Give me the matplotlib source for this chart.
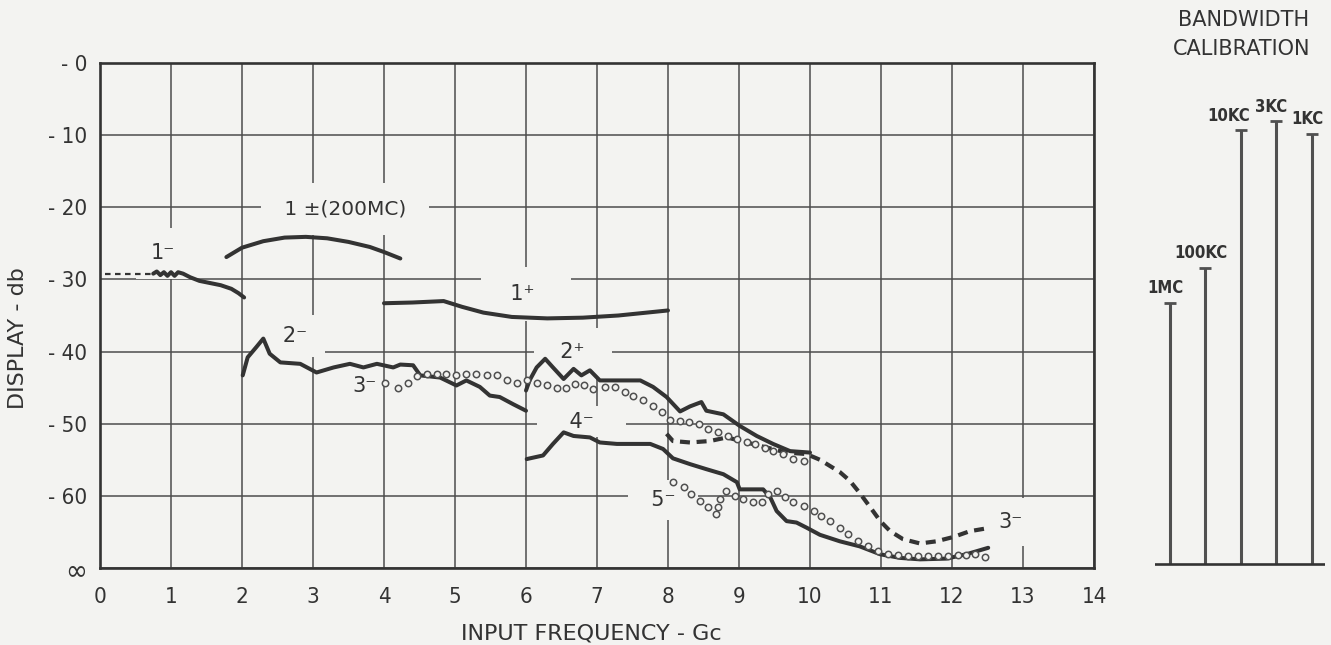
import matplotlib.pyplot as plt
from matplotlib import font_manager

paper = '#f3f3f1'
ink = '#333333'
grid_ink = '#4d4d4d'
wide = ['DejaVu Sans']

# pick a condensed face for the numerals if one is installed
_fonts = font_manager.fontManager.ttflist
if any(f.name == 'Liberation Sans Narrow' for f in _fonts):
    narrow = dict(family=['Liberation Sans Narrow', 'DejaVu Sans'])
elif any(f.name == 'DejaVu Sans' and f.stretch in ('condensed', 'semi-condensed', 600) for f in _fonts):
    narrow = dict(family=['DejaVu Sans'], stretch='condensed')
else:
    narrow = dict(family=['DejaVu Sans'])

# axes: input frequency in Gc, display level in db (-70 drawn as infinity)
x_ticks = list(range(15))
y_ticks = [0, -10, -20, -30, -40, -50, -60, -70]
y_ticklabels = ['- 0', '- 10', '- 20', '- 30', '- 40', '- 50', '- 60', '∞']

# 1- : dotted lead-in, then measured trace
x_1m_dot = [0.07, 0.75]
y_1m_dot = [-29.3, -29.3]
x_1m = [0.75, 0.80, 0.85, 0.90, 0.95, 1.00, 1.05, 1.10, 1.17, 1.27, 1.40, 1.55, 1.70, 1.85, 1.95, 2.03]
y_1m = [-29.2, -28.9, -29.4, -29.0, -29.5, -29.0, -29.5, -29.0, -29.2, -29.7, -30.2, -30.5, -30.8, -31.3, -31.9, -32.5]

# 1± (200 MC)
x_1pm = [1.78, 2.00, 2.30, 2.60, 2.90, 3.20, 3.50, 3.80, 4.00, 4.23]
y_1pm = [-26.9, -25.6, -24.7, -24.2, -24.1, -24.3, -24.8, -25.5, -26.2, -27.1]

# 1+
x_1p = [4.00, 4.40, 4.84, 5.10, 5.40, 5.80, 6.30, 6.80, 7.30, 7.70, 8.00]
y_1p = [-33.3, -33.2, -33.0, -33.8, -34.6, -35.2, -35.4, -35.3, -35.0, -34.6, -34.3]

# 2-
x_2m = [2.01, 2.08, 2.20, 2.30, 2.39, 2.54, 2.82, 3.05, 3.29, 3.52, 3.71, 3.90, 4.13, 4.23,
        4.41, 4.51, 4.79, 5.02, 5.16, 5.35, 5.49, 5.63, 5.82, 6.00]
y_2m = [-43.3, -40.8, -39.4, -38.2, -40.3, -41.5, -41.7, -42.9, -42.2, -41.7, -42.2, -41.7, -42.2, -41.8,
        -41.9, -43.3, -43.6, -44.7, -44.0, -44.9, -46.1, -46.3, -47.3, -48.2]

# 2+
x_2p = [6.00, 6.05, 6.15, 6.27, 6.38, 6.53, 6.67, 6.78, 6.90, 7.04, 7.28, 7.61, 7.79, 7.98,
        8.17, 8.31, 8.47, 8.54, 8.78, 9.01, 9.25, 9.48, 9.72, 10.00]
y_2p = [-45.4, -44.0, -42.2, -41.0, -42.2, -43.8, -42.4, -43.3, -42.6, -44.0, -44.0, -44.0, -44.9, -46.3,
        -48.3, -47.6, -47.0, -48.2, -48.7, -50.3, -51.7, -52.8, -53.8, -54.0]

# 4-
x_4m = [6.01, 6.24, 6.38, 6.53, 6.67, 6.90, 7.04, 7.28, 7.75, 7.93, 8.07, 8.31, 8.54, 8.78, 8.97, 9.01,
        9.20, 9.34, 9.44, 9.53, 9.67, 9.81, 9.95, 10.14, 10.42, 10.70, 10.99, 11.27, 11.55, 11.92, 12.20, 12.51]
y_4m = [-54.9, -54.4, -52.8, -51.2, -51.7, -51.9, -52.6, -52.8, -52.8, -53.5, -54.8, -55.6, -56.3, -57.0, -58.1, -59.1,
        -59.1, -59.1, -60.2, -62.1, -63.5, -63.7, -64.4, -65.4, -66.3, -67.0, -68.1, -68.6, -68.8, -68.7, -68.1, -67.2]

# 3- : plotted points, then the dashed continuation
x_3m_pts = [4.01, 4.20, 4.34, 4.47, 4.60, 4.74, 4.88, 5.02, 5.16, 5.30, 5.45, 5.59, 5.73, 5.87, 6.01, 6.15,
            6.29, 6.43, 6.57, 6.69, 6.81, 6.95, 7.11, 7.25, 7.39, 7.51, 7.65, 7.79, 7.91, 8.03, 8.17, 8.29,
            8.43, 8.57, 8.71, 8.85, 8.97, 9.11, 9.23, 9.37, 9.48, 9.62, 9.76, 9.91]
y_3m_pts = [-44.4, -45.0, -44.3, -43.4, -43.1, -43.1, -43.1, -43.3, -43.1, -43.1, -43.3, -43.2, -44.0, -44.3, -44.0, -44.3,
            -44.7, -45.0, -45.0, -44.5, -44.7, -45.2, -44.9, -44.9, -45.6, -46.1, -46.7, -47.5, -48.4, -49.5, -49.6, -49.8,
            -50.0, -50.7, -51.2, -51.7, -52.1, -52.6, -52.8, -53.3, -53.8, -54.2, -54.9, -55.1]
x_3m_dash = [7.98, 8.07, 8.31, 8.59, 8.83, 9.11, 9.39, 9.67, 9.95, 10.14, 10.42, 10.56, 10.70, 10.85,
             10.99, 11.13, 11.31, 11.55, 11.78, 12.02, 12.25, 12.49]
y_3m_dash = [-51.4, -52.4, -52.6, -52.4, -51.9, -52.6, -53.3, -54.0, -54.2, -55.0, -56.7, -57.9, -59.6, -61.6,
             -63.5, -64.9, -66.0, -66.6, -66.3, -65.7, -64.9, -64.5]

# 5- points
x_5m_pts = [8.07, 8.22, 8.33, 8.45, 8.57, 8.68, 8.70, 8.73, 8.82, 8.94, 9.06, 9.20, 9.32, 9.41, 9.53, 9.65,
            9.76, 9.91, 10.05, 10.16, 10.28, 10.42, 10.54, 10.68, 10.82, 10.96, 11.10, 11.24, 11.38, 11.52,
            11.66, 11.80, 11.94, 12.08, 12.20, 12.32, 12.46]
y_5m_pts = [-58.1, -58.8, -59.8, -60.7, -61.6, -62.5, -61.6, -60.5, -59.3, -60.0, -60.5, -60.9, -60.9, -59.8, -59.3, -60.1,
            -60.8, -61.4, -62.1, -62.8, -63.5, -64.4, -65.3, -66.2, -67.0, -67.6, -68.0, -68.2, -68.3, -68.3,
            -68.3, -68.3, -68.3, -68.2, -68.2, -68.1, -68.5]

# bandwidth calibration markers (same db scale)
bw_labels = ['1MC', '100KC', '10KC', '3KC', '1KC']
bw_levels = [-33.2, -28.4, -9.3, -8.1, -9.8]
bw_base = -69.4

fig = plt.figure(figsize=(13.31, 6.45), dpi=100, facecolor=paper)
ax = fig.add_axes([100 / 1331, 77 / 645, 994 / 1331, 505 / 645])
ax.set_facecolor(paper)
ax.set_xlim(0, 14)
ax.set_ylim(-70, 0)
ax.set_xticks(x_ticks)
ax.set_yticks(y_ticks)
ax.set_yticklabels(y_ticklabels)
ax.tick_params(axis='x', length=0, pad=14, colors=ink)
ax.tick_params(axis='y', length=0, pad=9, colors=ink)
for lab in ax.get_xticklabels() + ax.get_yticklabels():
    lab.set_fontproperties(font_manager.FontProperties(size=16, **narrow))
ax.get_yticklabels()[-1].set_fontsize(21)
ax.grid(True, color=grid_ink, lw=1.1)
ax.set_axisbelow(True)
for sp in ax.spines.values():
    sp.set_color(ink)
    sp.set_linewidth(1.9)

solid = dict(color=ink, lw=2.9, solid_capstyle='round', zorder=3)
ax.plot(x_1m_dot, y_1m_dot, color=ink, lw=1.6, dashes=(2.5, 2), zorder=3)
ax.plot(x_1m, y_1m, **solid)
ax.plot(x_1pm, y_1pm, **solid)
ax.plot(x_1p, y_1p, **solid)
ax.plot(x_2m, y_2m, **solid)
ax.plot(x_2p, y_2p, **solid)
ax.plot(x_4m, y_4m, **solid)
ax.plot(x_3m_dash, y_3m_dash, color=ink, lw=3.0, dashes=(2.4, 1.6), zorder=3)
circ = dict(ls='none', marker='o', ms=4.6, mfc=paper, mec='#505050', mew=1.1, zorder=4)
ax.plot(x_3m_pts, y_3m_pts, **circ)
ax.plot(x_5m_pts, y_5m_pts, **circ)

# curve labels; the paper-coloured box breaks the grid around each one
def tag(x, y, s, pad, size=15):
    ax.text(x, y, s, ha='center', va='center', fontsize=size, color=ink, family=wide, zorder=2,
            bbox=dict(facecolor=paper, edgecolor='none', pad=pad))

tag(0.89, -26.4, '1⁻', 11)
tag(3.45, -20.2, ' 1 ±(200MC) ', 12, size=14.5)
tag(6.0, -32.0, '  1⁺   ', 12)
tag(2.65, -37.8, '   2⁻ ', 8)
tag(3.72, -44.8, '3⁻', 0)
tag(6.66, -40.0, '  2⁺  ', 10)
tag(6.78, -49.7, '    4⁻    ', 4)
tag(7.93, -60.6, '  5⁻  ', 7)
tag(12.83, -63.6, '3⁻', 10)

fig.text(591 / 1331, 1 - 633 / 645, 'INPUT FREQUENCY - Gc', ha='center', va='center',
         fontsize=16, color=ink, family=wide)
fig.text(18 / 1331, 1 - 338 / 645, 'DISPLAY - db', ha='center', va='center', rotation=90,
         fontsize=16, color=ink, family=wide)

# bandwidth calibration panel
ax2 = fig.add_axes([1155 / 1331, 77 / 645, 170 / 1331, 505 / 645])
ax2.set_xlim(-0.42, 4.37)
ax2.set_ylim(-70, 0)
ax2.axis('off')
pos = list(range(len(bw_labels)))
ax2.vlines(pos, bw_base, bw_levels, color='#505050', lw=2.2)
ax2.plot(pos, bw_levels, ls='none', marker='_', ms=9, mew=2, color='#505050')
ax2.axhline(bw_base, color=ink, lw=1.9)
bw_shift = [-3, -3, -9, -4, -3]
for p, lbl, v, dx in zip(pos, bw_labels, bw_levels, bw_shift):
    ax2.annotate(lbl, (p, v), xytext=(dx, 4), textcoords='offset points', ha='center', va='bottom',
                 fontproperties=font_manager.FontProperties(size=12, weight='bold', **narrow), color=ink)
fig.text(1244 / 1331, 1 - 20 / 645, 'BANDWIDTH', ha='center', va='center', fontsize=15, color=ink, family=wide)
fig.text(1242 / 1331, 1 - 49 / 645, 'CALIBRATION', ha='center', va='center', fontsize=15, color=ink, family=wide)

fig.savefig('out.png', dpi=100, facecolor=paper)
